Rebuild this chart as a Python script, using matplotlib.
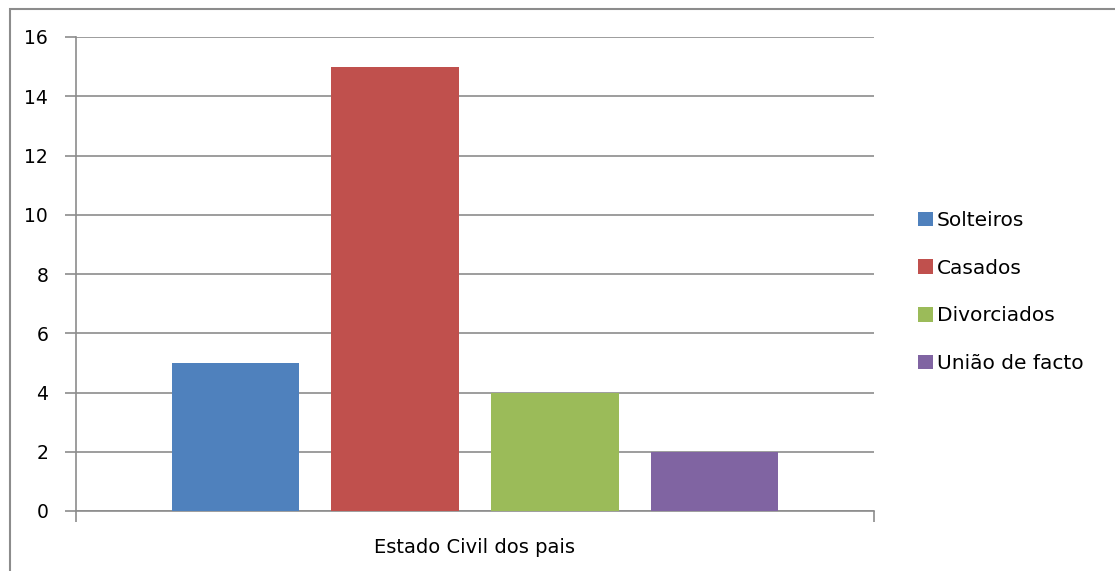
import matplotlib.pyplot as plt
from matplotlib.patches import Rectangle

series = ["Solteiros", "Casados", "Divorciados", "União de facto"]
values = [5, 15, 4, 2]
colors = ["#4f81bd", "#c0504d", "#9bbb59", "#8064a2"]
category = "Estado Civil dos pais"

plt.rcParams['font.family'] = ['DejaVu Sans']

fig = plt.figure(figsize=(11.15, 5.71), dpi=100)
W, H = 1115, 571
ax = fig.add_axes([76 / W, 1 - 511 / H, (874 - 76) / W, (511 - 37) / H])

# one category, four series side by side
pos = [0.2, 0.4, 0.6, 0.8]
for p, v, c, s in zip(pos, values, colors, series):
    ax.bar(p, v, width=0.16, color=c, label=s, zorder=3)

ax.set_xlim(0, 1)
ax.set_ylim(0, 16)
ax.set_yticks(range(0, 17, 2))
ax.grid(axis='y', color='#8c8c8c', linewidth=1.2, zorder=0)
ax.set_xticks([0, 1])
ax.set_xticklabels(["", ""])
ax.tick_params(axis='x', length=8, width=1.2, color='#8c8c8c')
ax.tick_params(axis='y', length=8, width=1.2, color='#8c8c8c',
               labelsize=13.5, pad=12)
for side in ['top', 'right']:
    ax.spines[side].set_visible(False)
for side in ['left', 'bottom']:
    ax.spines[side].set_color('#8c8c8c')
    ax.spines[side].set_linewidth(1.2)

ax.text(0.5, -0.077, category, transform=ax.transAxes, ha='center', va='center',
        fontsize=14)

leg = ax.legend(loc='center left', bbox_to_anchor=(1.032, 0.462), frameon=False,
                fontsize=14.5, handlelength=0.75, handleheight=0.75,
                handletextpad=0.2, labelspacing=1.42)

# outer chart border
fig.patches.append(Rectangle((10 / W, -0.1), 1.2, 1 - 9 / H + 0.1,
                             transform=fig.transFigure, fill=False,
                             edgecolor='#8c8c8c', linewidth=1.5))

fig.savefig("out.png", dpi=100)
